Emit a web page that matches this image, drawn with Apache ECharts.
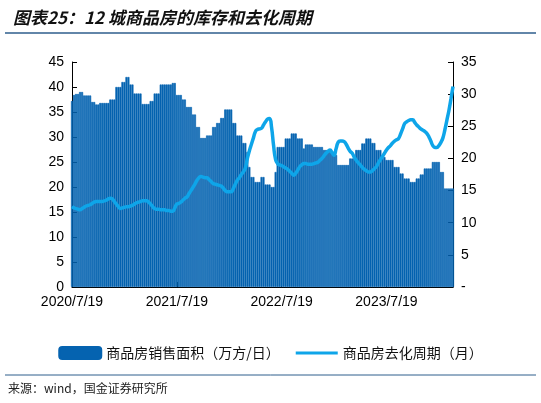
<!DOCTYPE html>
<html><head><meta charset="utf-8">
<script src="https://cdn.jsdelivr.net/npm/echarts@6/dist/echarts.min.js"></script>
<style>html,body{margin:0;padding:0;background:#fff}#c{width:541px;height:403px}</style>
</head><body><div id="c"></div>
<script>
const tickLabels = ['2020/7/19','2021/7/19','2022/7/19','2023/7/19'];
const salesArea = [37.2,38.4,38.6,38.6,39,39,38.3,38.3,38.3,38.3,37,37,36.5,36.5,36.8,36.8,36.8,36.8,36.8,37.5,37.5,37.5,40,40,40,41,41,42,42,40.5,40.5,38.7,38.7,38.7,38.7,36.6,36.6,36.6,36.6,37.2,37.2,38.7,38.7,38.7,40.5,40.5,40.5,40.5,40.5,40.5,40.8,40.8,38.4,38.4,38.4,37.5,37.5,36,36,36,34.5,34.5,32,32,29.8,29.8,29.8,30.3,30.3,30.3,32,32,32.8,32.8,33.8,33.8,35.5,35.5,35.5,35.5,32.8,32.8,30.3,30.3,30.3,28.8,28.8,27,24,22,22,21,21,21,22,22,20.5,20.5,20.5,20,20,23,28,28,28,28,29.7,29.7,29.7,30.7,30.7,30.7,29.7,29.7,29.7,27.7,28.5,28.5,28.5,28.5,28,28,28,28,28,27.4,27.4,27.4,27,27,27,26.4,24.4,24.4,24.4,24.4,24.4,24.4,25.7,25.7,25.7,27.4,27.4,27.4,28.7,28.7,29.7,29.7,29.7,28.8,28.8,27.4,27.4,27.4,26,26,25.4,25.4,25.4,25.4,24,24,24,22.7,22.7,21.7,21.7,21.7,21,21,21,21.7,21.7,22.5,22.5,23.7,23.7,23.7,23.7,25,25,25,25,23,23,19.7,19.7,19.7,19.7,19.7];
const cycleMonths = [12.5,12.3,12.2,12.1,12.0,12.2,12.4,12.6,12.7,12.8,13.0,13.2,13.3,13.3,13.3,13.3,13.4,13.5,13.7,13.8,13.7,13.3,12.9,12.5,12.2,12.3,12.4,12.5,12.5,12.6,12.7,12.9,13.1,13.2,13.3,13.4,13.4,13.4,13.2,12.9,12.5,12.2,12.1,12.1,12.0,12.0,12.0,11.9,11.9,11.8,11.8,12.3,12.9,13.0,13.2,13.5,13.8,14.0,14.5,15.0,15.5,16.0,16.6,17.0,17.2,17.1,17.0,17.0,16.7,16.4,16.1,16.0,15.9,15.8,15.7,15.4,15.0,14.8,14.8,14.8,15.3,16.0,16.6,17.0,17.5,17.9,18.5,20.0,21.2,22.2,23.2,24.2,24.5,24.6,24.7,25.2,25.7,26.1,26.2,24.8,22.0,19.8,19.2,19.0,18.9,18.7,18.5,18.3,18.0,17.7,17.4,17.7,18.2,18.7,19.0,19.2,19.2,19.1,19.1,19.1,19.2,19.3,19.4,19.7,20.0,20.4,20.8,21.1,21.3,20.9,20.5,21.5,22.5,22.7,22.7,22.6,22.2,21.6,21.1,20.8,20.2,19.7,19.3,19.0,18.6,18.3,18.1,17.9,17.9,18.1,18.4,18.7,19.3,19.8,20.3,20.8,21.3,21.7,22.0,22.4,22.7,22.9,23.1,23.8,24.6,25.4,25.7,25.9,26.0,26.0,25.6,25.2,24.9,24.6,24.4,24.2,23.9,23.4,22.7,22.0,21.7,21.7,22.0,22.5,23.2,24.5,26.0,27.5,29.3,31.2];
const categories = salesArea.map((_, i) => 'W' + i);

const chart = echarts.init(document.getElementById('c'));
const axisText = {color:'#000', fontSize:14, fontFamily:'Liberation Sans, Arial'};
chart.setOption({
  animation:false,
  title:{text:'图表25：12 城商品房的库存和去化周期', left:8, top:4,
    textStyle:{fontSize:17, fontWeight:'bold', fontStyle:'italic', color:'#111', fontFamily:'Noto Sans CJK SC'}},
  graphic:[
    {type:'line', shape:{x1:5,y1:33,x2:536,y2:33}, style:{stroke:'#2e5e8c', lineWidth:1.5}},
    {type:'line', shape:{x1:5,y1:375,x2:536,y2:375}, style:{stroke:'#2e5e8c', lineWidth:1}},
    {type:'text', left:8, top:382, style:{text:'来源：wind，国金证券研究所', fontSize:12, fill:'#222', fontFamily:'Noto Sans CJK SC'}}
  ],
  legend:{top:341, left:'center', itemGap:16, itemWidth:42, itemHeight:12,
    textStyle:{fontSize:14, color:'#111', fontFamily:'Noto Sans CJK SC'},
    data:[{name:'商品房销售面积（万方/日）', icon:'roundRect'},
          {name:'商品房去化周期（月）', icon:'path://M0,5.5h40v3h-40z'}]},
  grid:{left:72, right:88, top:62, bottom:116},
  xAxis:{type:'category', data:categories, boundaryGap:false,
    axisLine:{lineStyle:{color:'#000'}},
    axisTick:{inside:true, interval:51, length:5, lineStyle:{color:'#000'}},
    axisLabel:{...axisText, interval:51, formatter:(v,i)=>tickLabels[Math.round(i/52)]||''}},
  yAxis:[
    {type:'value', min:0, max:45, interval:5, splitLine:{show:false},
      axisLine:{show:true, lineStyle:{color:'#000'}}, axisTick:{show:true, inside:true, lineStyle:{color:'#000'}},
      axisLabel:axisText},
    {type:'value', min:0, max:35, interval:5, splitLine:{show:false},
      axisLine:{show:true, lineStyle:{color:'#000'}}, axisTick:{show:true, inside:true, lineStyle:{color:'#000'}},
      axisLabel:{...axisText, formatter:v=>v===0?'-':v}}
  ],
  series:[
    {name:'商品房销售面积（万方/日）', type:'bar', data:salesArea, barCategoryGap:'0%',
      itemStyle:{color:'#0563b0', borderColor:'#0563b0', borderWidth:0.6}},
    {name:'商品房去化周期（月）', type:'line', yAxisIndex:1, data:cycleMonths, smooth:true,
      showSymbol:false, lineStyle:{color:'#0ea5e9', width:3.5}, itemStyle:{color:'#0ea5e9'}}
  ]
});
</script></body></html>
